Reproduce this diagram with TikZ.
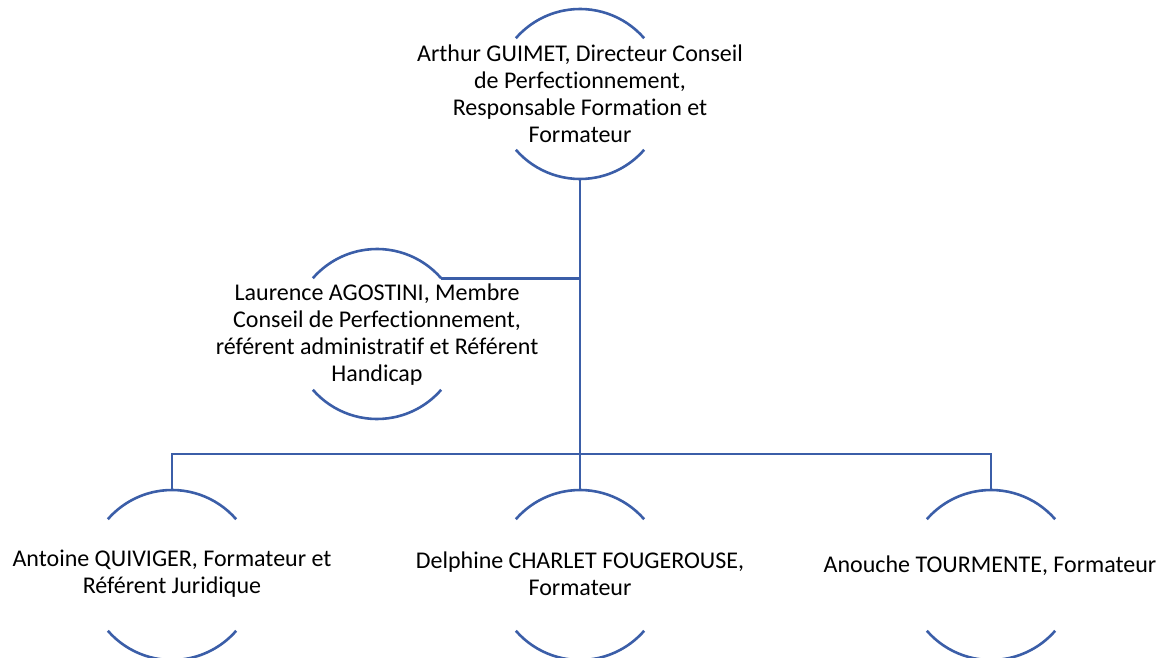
\documentclass[tikz,border=0pt]{standalone}
\usepackage{fontspec}
\setmainfont{Carlito}[Ligatures={NoCommon}]
\definecolor{lineblue}{RGB}{59,94,168}
\tikzset{
  halo/.style={circle, minimum size=170pt, inner sep=0pt, outer sep=0pt},
  txt/.style={align=center, font=\fontsize{24}{27}\selectfont, inner sep=0pt},
  rim/.style={draw=lineblue, line width=2.6pt},
  link/.style={draw=lineblue, line width=2.6pt},
}
\newcommand{\halfarcs}[1]{%
  \draw[rim] (#1.41) arc[start angle=41, end angle=139, radius=85pt];
  \draw[rim] (#1.221) arc[start angle=221, end angle=319, radius=85pt];
}
\begin{document}
\begin{tikzpicture}[x=1pt,y=1pt]
\useasboundingbox (0,0) rectangle (1166,657);
% circles
\node[halo] (a) at (580,563) {};
\node[halo] (l) at (377,323) {};
\node[halo] (c1) at (172,82) {};
\node[halo] (c2) at (580,82) {};
\node[halo] (c3) at (991,82) {};
\halfarcs{a}
\halfarcs{l}
\halfarcs{c1}
\halfarcs{c2}
\halfarcs{c3}
% texts
\node[txt] (ta) at (580,563) {Arthur GUIMET, Directeur Conseil\\de Perfectionnement,\\Responsable Formation et\\Formateur};
\node[txt] (tl) at (377,322) {Laurence AGOSTINI, Membre\\Conseil de Perfectionnement,\\référent administratif et Référent\\Handicap};
\node[txt] (t1) at (172,83) {Antoine QUIVIGER, Formateur et\\Référent Juridique};
\node[txt] (t2) at (580,83) {Delphine CHARLET FOUGEROUSE,\\Formateur};
\node[txt] (t3) at (990,91) {Anouche TOURMENTE, Formateur};
% connectors
\coordinate (bar) at (580,203);
\draw[link] (a.south) -- (c2.north);
\draw[link] (l.41) -- (l.41 -| a.south);
\draw[link] (c1.north) |- (bar) -| (c3.north);
\end{tikzpicture}
\end{document}
